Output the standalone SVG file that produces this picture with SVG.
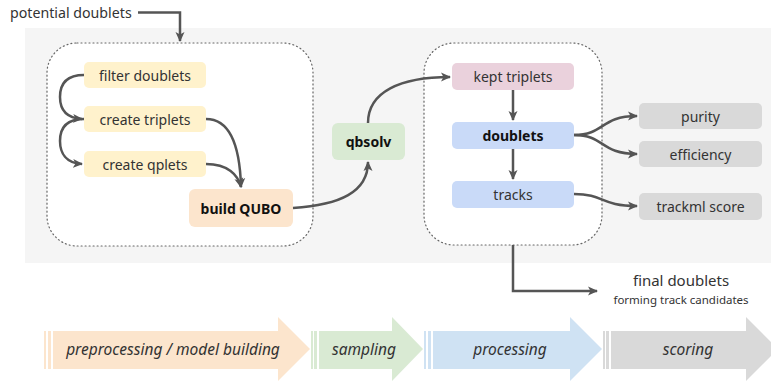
<svg xmlns="http://www.w3.org/2000/svg" width="771" height="383" viewBox="0 0 771 383">
<defs>
<marker id="ah" markerUnits="userSpaceOnUse" markerWidth="10" markerHeight="10" refX="9" refY="5" orient="auto" viewBox="0 0 10 10">
<path d="M0,0.5 L10,5 L0,9.5 L2.5,5 z" fill="#555"/>
</marker>
</defs>
<style>
text{font-family:"Noto Sans","Liberation Sans",sans-serif;fill:#333;}
.lbl{font-size:14px;text-anchor:middle;dominant-baseline:central;}
.b{font-weight:bold;fill:#111;}
.cont{fill:#fff;stroke:#666;stroke-width:1.2;stroke-dasharray:1 3;stroke-linecap:round;}
.con path{fill:none;stroke:#555;stroke-width:2.5;marker-end:url(#ah);}
.ph{font-size:15.5px;font-style:italic;text-anchor:middle;dominant-baseline:central;}
</style>
<rect x="25" y="28" width="746" height="235" fill="#f5f5f5"/>
<rect class="cont" x="47" y="43" width="266" height="203" rx="30"/>
<rect class="cont" x="424" y="43" width="178" height="202" rx="30"/>
<text x="10" y="18" font-size="14.2">potential doublets</text>
<g id="filter-doublets"><rect x="84" y="62" width="122" height="26" rx="5" fill="#fff2cc"/><text class="lbl" x="145" y="75">filter doublets</text></g>
<g id="create-triplets"><rect x="84" y="106" width="122" height="26" rx="5" fill="#fff2cc"/><text class="lbl" x="145" y="119">create triplets</text></g>
<g id="create-qplets"><rect x="84" y="151" width="122" height="26" rx="5" fill="#fff2cc"/><text class="lbl" x="145" y="164">create qplets</text></g>
<g id="build-qubo"><rect x="189" y="189" width="104" height="38" rx="6" fill="#fce5cd"/><text class="lbl b" x="241" y="208">build QUBO</text></g>
<g id="qbsolv"><rect x="332" y="123" width="73" height="37" rx="6" fill="#d9ead3"/><text class="lbl b" x="368.5" y="141.5">qbsolv</text></g>
<g id="kept-triplets"><rect x="452" y="63" width="122" height="27" rx="5" fill="#ead1dc"/><text class="lbl" x="513" y="76.5">kept triplets</text></g>
<g id="doublets"><rect x="452" y="122" width="122" height="27" rx="5" fill="#c9daf8"/><text class="lbl b" x="513" y="135.5">doublets</text></g>
<g id="tracks"><rect x="452" y="181" width="122" height="27" rx="5" fill="#c9daf8"/><text class="lbl" x="513" y="194.5">tracks</text></g>
<g id="purity"><rect x="639" y="103" width="123" height="26" rx="5" fill="#d9d9d9"/><text class="lbl" x="700.5" y="116">purity</text></g>
<g id="efficiency"><rect x="639" y="141" width="123" height="26" rx="5" fill="#d9d9d9"/><text class="lbl" x="700.5" y="154">efficiency</text></g>
<g id="trackml-score"><rect x="639" y="193" width="123" height="27" rx="5" fill="#d9d9d9"/><text class="lbl" x="700.5" y="206.5">trackml score</text></g>
<g id="final-doublets"><text x="681" y="286" font-size="15" text-anchor="middle">final doublets</text><text x="681" y="304" font-size="11.5" text-anchor="middle">forming track candidates</text></g>
<g class="con" id="connectors">
<path d="M138,12.5 H180 V41"/>
<path d="M84,75 C64,75 60,86 60,97 C60,109 66,118 82,119"/>
<path d="M84,119 C64,119 60,130 60,141 C60,153 66,163 82,164"/>
<path d="M206,119 C232,119 240,150 241,187"/>
<path d="M206,164 C228,164 238,175 241,187"/>
<path d="M293,208 C340,205 368,192 368,162"/>
<path d="M368,123 C368,92 400,77 450,77"/>
<path d="M513,90 V120"/>
<path d="M513,149 V179"/>
<path d="M574,135 C605,135 600,116 637,116"/>
<path d="M574,135 C605,135 600,154 637,154"/>
<path d="M574,194 C605,194 600,206 637,206"/>
<path d="M513,245 V291 H597"/>
</g>
<g id="phases">
<g fill="#fce5cd"><rect x="44" y="331" width="2" height="38"/><rect x="48" y="331" width="3" height="38"/><polygon points="53,331 278,331 278,317 310,349 278,381 278,369 53,369"/></g>
<text class="ph" x="173" y="349">preprocessing / model building</text>
<g fill="#d9ead3"><rect x="311" y="331" width="2" height="38"/><rect x="314" y="331" width="3" height="38"/><polygon points="319,331 392,331 392,317 423,349 392,381 392,369 319,369"/></g>
<text class="ph" x="364" y="349">sampling</text>
<g fill="#cfe2f3"><rect x="424" y="331" width="2" height="38"/><rect x="428" y="331" width="3" height="38"/><polygon points="433,331 570,331 570,317 602,349 570,381 570,369 433,369"/></g>
<text class="ph" x="510" y="349">processing</text>
<g fill="#d9d9d9"><rect x="603" y="331" width="2" height="38"/><rect x="606" y="331" width="3" height="38"/><polygon points="611,331 746,331 746,317 778,349 746,381 746,369 611,369"/></g>
<text class="ph" x="688" y="349">scoring</text>
</g>
</svg>
